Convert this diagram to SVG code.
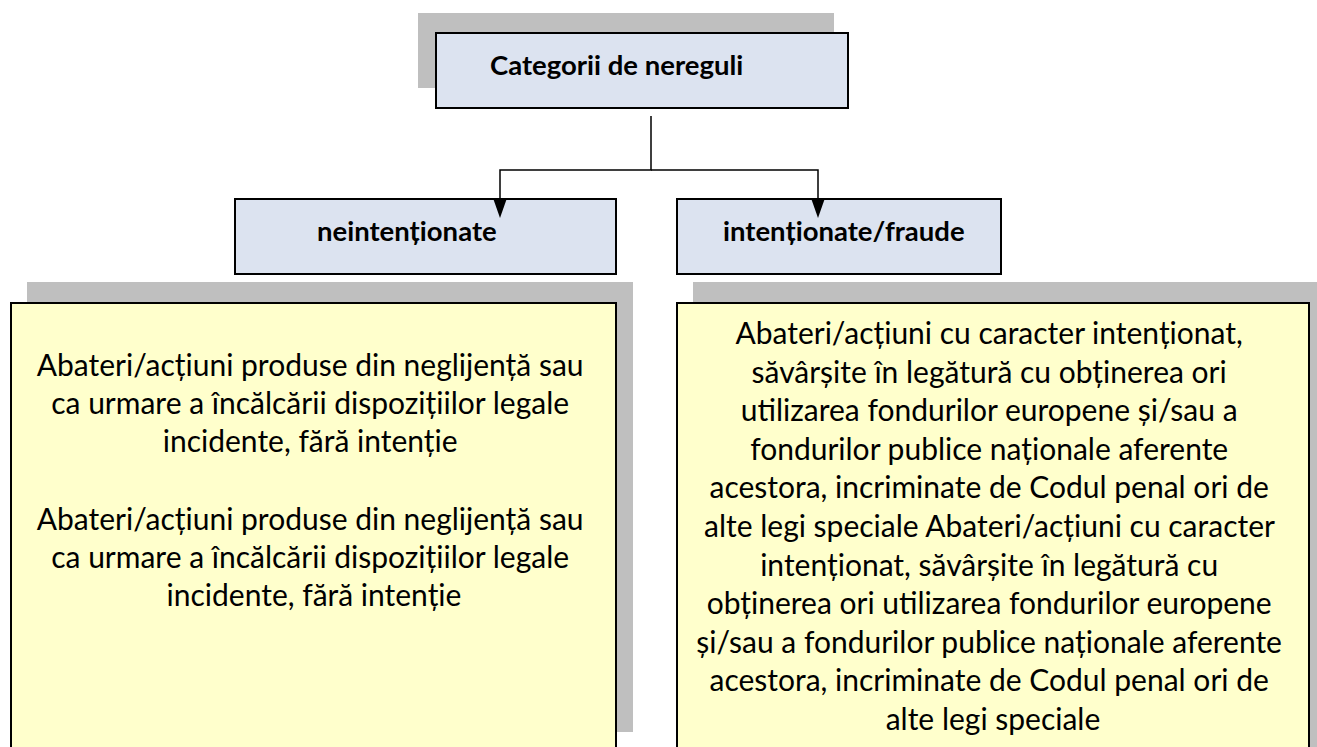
<svg xmlns="http://www.w3.org/2000/svg" width="1317" height="747" viewBox="0 0 1317 747">
<defs>
<style>
.shadow{fill:#BFBFBF;stroke:none}
.blue{fill:#DCE3F0;stroke:#000;stroke-width:2}
.yellow{fill:#FFFFCC;stroke:#000;stroke-width:2}
.hdr{font-family:Lato,"Open Sans",sans-serif;font-weight:bold;font-size:27.5px;fill:#000}
.body{font-family:Lato,"Open Sans",sans-serif;font-size:30px;fill:#000;text-anchor:middle}
.conn{fill:none;stroke:#000;stroke-width:1.5}
.head{fill:#000;stroke:none}
</style>
</defs>
<rect width="1317" height="747" fill="#fff"/>
<g id="node-top">
<rect class="shadow" x="418" y="13" width="416" height="75"/>
<rect class="blue" x="436" y="33" width="412" height="75"/>
<text class="hdr" x="490" y="75">Categorii de nereguli</text>
</g>
<g id="node-neintentionate">
<rect class="blue" x="235" y="199" width="381" height="75"/>
<text class="hdr" x="317" y="241">neintenționate</text>
</g>
<g id="node-intentionate">
<rect class="blue" x="677" y="199" width="324" height="75"/>
<text class="hdr" x="723" y="241">intenționate/fraude</text>
</g>
<g id="node-left-desc">
<rect class="shadow" x="27" y="282" width="606" height="450"/>
<rect class="yellow" x="11" y="303" width="605" height="460"/>
<text class="body">
<tspan x="314" y="376">Abateri/acțiuni produse din neglijență sau</tspan>
<tspan x="314" y="414">ca urmare a încălcării dispozițiilor legale</tspan>
<tspan x="314" y="452">incidente, fără intenție</tspan>
<tspan x="314" y="530">Abateri/acțiuni produse din neglijență sau</tspan>
<tspan x="314" y="568">ca urmare a încălcării dispozițiilor legale</tspan>
<tspan x="314" y="606">incidente, fără intenție</tspan>
</text>
</g>
<g id="node-right-desc">
<rect class="shadow" x="693" y="282" width="624" height="480"/>
<rect class="yellow" x="677" y="303" width="632" height="460"/>
<text class="body">
<tspan x="993" y="344">Abateri/acțiuni cu caracter intenționat,</tspan>
<tspan x="993" y="382.6">săvârșite în legătură cu obținerea ori</tspan>
<tspan x="993" y="421.2">utilizarea fondurilor europene și/sau a</tspan>
<tspan x="993" y="459.8">fondurilor publice naționale aferente</tspan>
<tspan x="993" y="498.4">acestora, incriminate de Codul penal ori de</tspan>
<tspan x="993" y="537">alte legi speciale Abateri/acțiuni cu caracter</tspan>
<tspan x="993" y="575.6">intenționat, săvârșite în legătură cu</tspan>
<tspan x="993" y="614.2">obținerea ori utilizarea fondurilor europene</tspan>
<tspan x="993" y="652.8">și/sau a fondurilor publice naționale aferente</tspan>
<tspan x="993" y="691.4">acestora, incriminate de Codul penal ori de</tspan>
<tspan x="993" y="730">alte legi speciale</tspan>
</text>
</g>
<g id="connectors">
<path class="conn" d="M651,116 V170 H500 V203"/>
<path class="conn" d="M651,170 H818 V203"/>
<path class="head" d="M493,198 L507,198 L500,218 Z"/>
<path class="head" d="M811,198 L825,198 L818,218 Z"/>
</g>
</svg>
